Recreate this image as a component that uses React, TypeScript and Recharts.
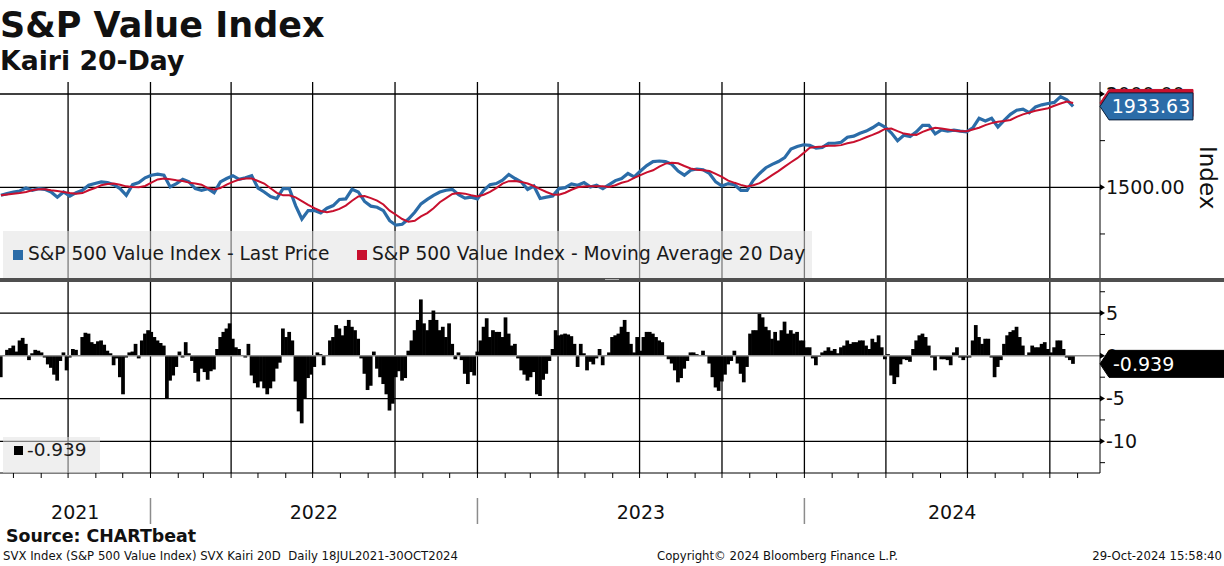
import React from 'react';
import { Bar, BarChart, Line, LineChart, ReferenceLine, XAxis, YAxis } from 'recharts';

// weekly samples from 18 Jul 2021
const lastPrice = [
  1457, 1466, 1475, 1480, 1496, 1484, 1493, 1489, 1475, 1447,
  1475, 1453, 1471, 1484, 1511, 1520, 1529, 1525, 1514, 1493,
  1457, 1514, 1525, 1551, 1565, 1571, 1565, 1502, 1520, 1543,
  1529, 1493, 1484, 1493, 1471, 1529, 1547, 1562, 1543, 1551,
  1562, 1496, 1475, 1450, 1440, 1493, 1493, 1402, 1330, 1375,
  1375, 1362, 1388, 1402, 1435, 1438, 1489, 1475, 1424, 1399,
  1393, 1375, 1321, 1297, 1302, 1330, 1366, 1411, 1435, 1457,
  1475, 1484, 1489, 1460, 1442, 1447, 1438, 1484, 1514, 1520,
  1538, 1569, 1547, 1529, 1489, 1507, 1440, 1447, 1453, 1493,
  1498, 1518, 1511, 1525, 1502, 1511, 1493, 1514, 1536, 1547,
  1574, 1556, 1587, 1616, 1638, 1641, 1638, 1623, 1587, 1565,
  1592, 1598, 1594, 1574, 1529, 1507, 1520, 1514, 1484, 1484,
  1538, 1574, 1605, 1623, 1638, 1659, 1705, 1719, 1728, 1725,
  1710, 1714, 1736, 1736, 1741, 1768, 1774, 1790, 1801, 1819,
  1841, 1823, 1792, 1750, 1779, 1772, 1797, 1832, 1832, 1786,
  1808, 1801, 1806, 1801, 1797, 1819, 1870, 1855, 1870, 1823,
  1859, 1891, 1913, 1919, 1900, 1931, 1942, 1949, 1955, 1986,
  1969, 1933.63,
];

const ma20 = [
  1457, 1462, 1466, 1469, 1475, 1484, 1489, 1489, 1484, 1480,
  1475, 1469, 1466, 1469, 1484, 1496, 1511, 1518, 1520, 1514,
  1505, 1502, 1500, 1507, 1525, 1542, 1547, 1543, 1538, 1534,
  1525, 1520, 1514, 1496, 1489, 1496, 1514, 1529, 1542, 1547,
  1547, 1534, 1520, 1495, 1470, 1457, 1457, 1446, 1426, 1406,
  1388, 1373, 1366, 1373, 1384, 1402, 1428, 1451, 1453, 1442,
  1429, 1408, 1375, 1353, 1330, 1315, 1321, 1344, 1362, 1388,
  1420, 1442, 1464, 1469, 1466, 1457, 1451, 1460, 1475, 1496,
  1520, 1533, 1534, 1529, 1520, 1507, 1490, 1475, 1462, 1460,
  1471, 1487, 1500, 1504, 1505, 1505, 1505, 1502, 1511, 1524,
  1533, 1551, 1565, 1580, 1591, 1611, 1627, 1632, 1629, 1614,
  1601, 1594, 1591, 1587, 1572, 1556, 1536, 1524, 1513, 1505,
  1511, 1522, 1543, 1565, 1587, 1611, 1634, 1656, 1683, 1712,
  1716, 1719, 1723, 1723, 1726, 1736, 1743, 1754, 1768, 1781,
  1795, 1813, 1815, 1801, 1788, 1783, 1781, 1797, 1810, 1819,
  1815, 1810, 1804, 1801, 1801, 1810, 1819, 1833, 1844, 1851,
  1855, 1861, 1877, 1891, 1900, 1910, 1917, 1924, 1937, 1949,
  1960, 1952,
];

// Kairi 20D, two samples a week
const kairi = [
  -2.5, 0.1, 0.7, 0.9, 1.2, 0.5, 1.8, 2.1, 1.4, -0.5,
  0.3, 0.7, 0.6, 0.4, -0.2, -1.0, -1.4, -2.2, -2.9, -0.6,
  0.4, -1.7, -0.2, 0.8, 0.7, 0.1, 2.2, 2.7, 2.6, 1.6,
  1.4, 1.7, 1.8, 1.3, 0.6, 0.3, -1.1, -0.3, -2.5, -4.5,
  -0.2, 0.4, 0.5, 1.4, -0.3, 1.8, 2.6, 3.0, 2.8, 2.2,
  1.8, 1.5, 1.2, -5.0, -2.9, -2.3, -1.3, 0.5, -0.2, 1.6,
  0.3, -0.6, -2.0, -3.0, -1.5, -1.9, -2.8, -1.8, -1.6, 0.8,
  2.2, 2.8, 3.2, 3.8, 2.0, 1.0, 0.8, 0.1, -0.2, 1.4,
  -2.3, -3.2, -3.7, -3.0, -3.8, -4.5, -3.8, -3.0, -1.5, -0.8,
  3.2, 2.2, 2.8, 1.8, -3.0, -6.5, -7.9, -5.0, -2.6, -2.2,
  -1.3, 0.4, 0.2, -1.1, 0.1, 1.8, 2.2, 3.6, 3.2, 2.4,
  3.5, 4.2, 3.4, 3.0, 2.0, -0.3, -2.1, -4.0, -3.5, 0.5,
  -1.5, -2.5, -3.3, -4.5, -6.4, -5.6, -2.5, -1.8, -2.9, -2.6,
  0.6, 1.8, 3.0, 4.2, 6.6, 3.8, 3.0, 4.2, 5.3, 4.2,
  3.0, 3.4, 2.2, 3.8, 1.4, -0.4, 0.4, -0.5, -2.1, -3.3,
  -1.9, -2.3, 0.5, 1.8, 3.4, 4.4, 2.2, 3.0, 2.8, 2.8,
  2.2, 4.5, 2.6, 1.2, 1.4, -0.3, -1.7, -2.2, -2.9, -2.5,
  -1.9, -4.5, -4.7, -2.8, -2.1, -0.6, 0.8, 3.0, 2.4, 2.5,
  2.6, 2.5, 2.3, 1.4, -1.3, 1.4, 0.3, -1.7, -0.7, -1.0,
  -0.3, 0.8, -1.1, 0.1, 0.4, 2.2, 2.4, 2.6, 3.4, 4.2,
  2.8, 1.4, 0.4, 2.2, 0.6, 2.2, 2.8, 2.8, 2.6, 2.2,
  1.8, 1.6, 0.0, -0.4, -0.9, -1.7, -3.1, -2.6, -1.5, -0.6,
  0.4, 0.4, 0.2, 0.0, 0.6, 0.1, -0.9, -2.5, -3.7, -4.1,
  -3.0, -2.2, -1.0, -0.6, 0.6, -0.9, -2.1, -3.1, -1.3, 2.6,
  3.0, 3.0, 4.9, 4.5, 3.4, 3.0, 2.0, 2.8, 1.8, 3.0,
  4.0, 2.6, 3.0, 2.6, 2.8, 1.8, 1.8, 1.0, 1.0, -0.3,
  -1.1, -0.1, 0.4, 0.6, 1.0, 0.6, 0.8, 0.3, 1.0, 1.2,
  1.8, 1.4, 1.6, 1.6, 1.8, 1.8, 1.2, 0.8, 2.0, 1.6,
  2.4, 1.0, -0.4, 0.2, -2.3, -3.3, -2.5, -1.0, -0.4, -0.5,
  -0.7, 0.8, 1.8, 2.4, 2.6, 2.2, 1.2, -0.2, -1.7, 0.0,
  -0.4, -0.4, -0.5, -1.1, 0.4, 1.0, -0.2, -0.5, -0.2, -0.2,
  1.8, 3.6, 2.2, 1.4, 2.0, 2.0, -0.2, -2.5, -1.3, -0.5,
  1.4, 2.4, 2.8, 3.0, 3.4, 2.2, 1.2, 0.0, 0.4, 1.2,
  1.0, 1.0, 1.4, 1.6, 0.8, 0.4, 1.0, 1.8, 1.8, 0.8,
  -0.2, -0.5, -0.939,
];

const priceTicks = [1250, 1500, 1750, 2000];
const priceMajor = [1500, 2000];
const kairiTicks = [-12.5, -10, -7.5, -5, -2.5, 0, 2.5, 5, 7.5];
const kairiMajor = [-10, -5, 0, 5];
const years = [2021, 2022, 2023, 2024];

const FONT = "'DejaVu Sans', Verdana, sans-serif";
const START = Date.UTC(2021, 6, 18);
const dayOf = (y: number, m: number) => (Date.UTC(y, m, 1) - START) / 86400000;
const X_DOMAIN: [number, number] = [-1, 1227];
const PLOT_W = 1100;

const priceRows = lastPrice.map((v, i) => ({ day: i * 7, price: v, ma: ma20[i] }));
const kairiRows = kairi.map((v, i) => ({ day: i * 3.5, k: v }));

const months: { day: number; m: number }[] = [];
years.forEach((y) => {
  for (let m = 0; m < 12; m++) {
    const d = dayOf(y, m);
    if (d > X_DOMAIN[0] && d < X_DOMAIN[1]) months.push({ day: d, m });
  }
});
const quarterDays = months.filter((t) => t.m % 3 === 0).map((t) => t.day);
const yearStarts = months.filter((t) => t.m === 0).map((t) => t.day);
const yearMids = years.map((y) => {
  const a = Math.max(dayOf(y, 0), X_DOMAIN[0]);
  const b = Math.min(dayOf(y + 1, 0), X_DOMAIN[1]);
  return { day: (a + b) / 2, label: String(y) };
});
const xTicks = [...months.map((t) => t.day), ...yearMids.map((t) => t.day)];

const last = <T,>(a: T[]) => a[a.length - 1];
const lastPx = last(lastPrice);
const lastMa = last(ma20);
const lastK = last(kairi);

// one sample step in pixels, so bars can butt up against each other
const barStep = (3.5 * PLOT_W) / (X_DOMAIN[1] - X_DOMAIN[0]);

// tag values go last so they paint over the axis labels
const priceAxisTicks = [...priceTicks, lastMa, lastPx];
const kairiAxisTicks = [...kairiTicks, lastK];

const tagPath = (x: number, cy: number, right: number) => {
  const h = 13.5;
  return `M${x},${cy}L${x + 9},${cy - h}L${right},${cy - h}L${right},${cy + h}L${x + 9},${cy + h}Z`;
};

const PriceTick = ({ x, y, payload }: any) => {
  const v = payload.value;
  if (v === lastMa) {
    return <path d={tagPath(x, y, 1193)} fill="#c8102e" stroke="#c8102e" />;
  }
  if (v === lastPx) {
    return (
      <g>
        <path d={tagPath(x, y, 1193)} fill="#2b6ca8" stroke="#0b1f3a" />
        <text x={1151} y={y} dy="0.36em" textAnchor="middle" fontSize={19} fontFamily={FONT} fill="#fff">
          {v.toFixed(2)}
        </text>
      </g>
    );
  }
  if (!priceMajor.includes(v)) return <line x1={x} x2={x + 5} y1={y} y2={y} stroke="#000" />;
  return (
    <g>
      <path d={`M${x},${y - 3}L${x + 5},${y}L${x},${y + 3}Z`} fill="#000" />
      <text x={x + 6} y={y} dy="0.36em" fontSize={19} fontFamily={FONT} fill="#111">
        {v.toFixed(2)}
      </text>
    </g>
  );
};

const KairiTick = ({ x, y, payload }: any) => {
  const v = payload.value;
  if (v === lastK) {
    return (
      <g>
        <path d={tagPath(x, y, 1230)} fill="#000" stroke="#000" />
        <text x={x + 13} y={y} dy="0.36em" fontSize={19} fontFamily={FONT} fill="#fff">
          {v.toFixed(3)}
        </text>
      </g>
    );
  }
  if (!kairiMajor.includes(v)) return <line x1={x} x2={x + 5} y1={y} y2={y} stroke="#000" />;
  return (
    <g>
      <path d={`M${x},${y - 3}L${x + 5},${y}L${x},${y + 3}Z`} fill="#000" />
      <text x={x + 6} y={y} dy="0.36em" fontSize={19} fontFamily={FONT} fill="#111">
        {String(v)}
      </text>
    </g>
  );
};

const DateTick = ({ x, y, payload }: any) => {
  const v = payload.value;
  const yr = yearMids.find((t) => t.day === v);
  if (yr) {
    return (
      <text x={x} y={y + 46} textAnchor="middle" fontSize={19} fontFamily={FONT} fill="#111">
        {yr.label}
      </text>
    );
  }
  return (
    <g>
      <line x1={x} x2={x} y1={y} y2={y + 5} stroke="#000" />
      {yearStarts.includes(v) && (
        <line x1={x} x2={x} y1={y + 25} y2={y + 51} stroke="#8c8c8c" strokeWidth={1.5} />
      )}
    </g>
  );
};

const footer = { position: 'absolute' as const, top: 551, fontSize: 11.7, lineHeight: 1, whiteSpace: 'pre' as const };

export default function App() {
  return (
    <div
      style={{
        position: 'absolute',
        left: 0,
        top: 0,
        width: 1224,
        height: 566,
        overflow: 'hidden',
        background: '#fff',
        fontFamily: FONT,
        color: '#111',
      }}
    >
      <div style={{ position: 'absolute', left: 0, top: 8, fontSize: 35, fontWeight: 'bold', lineHeight: 1 }}>
        S&amp;P Value Index
      </div>
      <div style={{ position: 'absolute', left: 0, top: 48, fontSize: 26.7, fontWeight: 'bold', lineHeight: 1 }}>
        Kairi 20-Day
      </div>

      <div style={{ position: 'absolute', left: 0, top: 82 }}>
        <LineChart width={1224} height={197} data={priceRows} margin={{ top: 0, right: 0, bottom: 0, left: 0 }}>
          <XAxis dataKey="day" type="number" domain={X_DOMAIN} hide allowDataOverflow />
          <YAxis
            orientation="right"
            width={124}
            domain={[1008.6, 2064.3]}
            ticks={priceAxisTicks}
            interval={0}
            tickSize={0}
            tickMargin={0}
            tickLine={false}
            axisLine={{ stroke: '#000' }}
            allowDataOverflow
            tick={<PriceTick />}
          />
          {quarterDays.map((d) => (
            <ReferenceLine key={d} x={d} stroke="#000" strokeWidth={1.3} />
          ))}
          {priceMajor.map((v) => (
            <ReferenceLine key={v} y={v} stroke="#000" strokeWidth={1.3} />
          ))}
          <Line dataKey="price" stroke="#2b6ca8" strokeWidth={3.2} dot={false} isAnimationActive={false} />
          <Line dataKey="ma" stroke="#c8102e" strokeWidth={2} dot={false} isAnimationActive={false} />
        </LineChart>
      </div>

      <div
        style={{
          position: 'absolute',
          left: 1196,
          top: 146,
          writingMode: 'vertical-rl',
          fontSize: 23,
          lineHeight: 1,
        }}
      >
        Index
      </div>

      <div
        style={{
          position: 'absolute',
          left: 3,
          top: 231,
          width: 809,
          height: 47,
          background: 'rgba(225,225,225,0.55)',
          fontSize: 18.6,
          color: '#1a1a1a',
        }}
      >
        <div style={{ position: 'absolute', left: 10, top: 19, width: 10, height: 10, background: '#2b6ca8' }} />
        <div style={{ position: 'absolute', left: 25, top: 12, whiteSpace: 'pre', lineHeight: 1.2 }}>
          S&amp;P 500 Value Index - Last Price
        </div>
        <div style={{ position: 'absolute', left: 354, top: 19, width: 10, height: 10, background: '#c8102e' }} />
        <div style={{ position: 'absolute', left: 369, top: 12, whiteSpace: 'pre', lineHeight: 1.2 }}>
          S&amp;P 500 Value Index - Moving Average 20 Day
        </div>
      </div>

      <div style={{ position: 'absolute', left: 0, top: 282 }}>
        <BarChart
          width={1224}
          height={249}
          data={kairiRows}
          margin={{ top: 0, right: 0, bottom: 0, left: 0 }}
          barCategoryGap={0}
          barGap={0}
        >
          <XAxis
            dataKey="day"
            type="number"
            domain={X_DOMAIN}
            ticks={xTicks}
            interval={0}
            tickSize={0}
            tickMargin={0}
            tickLine={false}
            height={58}
            axisLine={{ stroke: '#000' }}
            allowDataOverflow
            tick={<DateTick />}
          />
          <YAxis
            orientation="right"
            width={124}
            domain={[-13.71, 8.64]}
            ticks={kairiAxisTicks}
            interval={0}
            tickSize={0}
            tickMargin={0}
            tickLine={false}
            axisLine={{ stroke: '#000' }}
            allowDataOverflow
            tick={<KairiTick />}
          />
          {quarterDays.map((d) => (
            <ReferenceLine key={d} x={d} stroke="#000" strokeWidth={1.3} />
          ))}
          {[5, -5, -10].map((v) => (
            <ReferenceLine key={v} y={v} stroke="#000" strokeWidth={1.3} />
          ))}
          <Bar
            dataKey="k"
            fill="#000"
            barSize={barStep}
            isAnimationActive={false}
            shape={(p: any) => {
              const h = Math.abs(p.height);
              const top = p.height < 0 ? p.y + p.height : p.y;
              const cx = p.x + p.width / 2;
              return <rect x={cx - barStep / 2 - 0.3} y={top} width={barStep + 0.6} height={h} fill="#000" />;
            }}
          />
          <ReferenceLine y={0} stroke="#8c8c8c" strokeWidth={1.5} />
        </BarChart>
      </div>

      <div style={{ position: 'absolute', left: 0, top: 278, width: 1224, height: 4, background: '#4f4f4f' }} />
      <div style={{ position: 'absolute', left: 605, top: 279, width: 14, height: 1, background: '#b0b0b0' }} />

      <div
        style={{
          position: 'absolute',
          left: 3,
          top: 437,
          width: 97,
          height: 36,
          background: 'rgba(225,225,225,0.55)',
          fontSize: 18.5,
          color: '#1a1a1a',
        }}
      >
        <div style={{ position: 'absolute', left: 11, top: 9, width: 9, height: 9, background: '#000' }} />
        <div style={{ position: 'absolute', left: 24, top: 2, lineHeight: 1.2 }}>{lastK.toFixed(3)}</div>
      </div>

      <div style={{ position: 'absolute', left: 6, top: 528, fontSize: 17.4, fontWeight: 'bold', lineHeight: 1 }}>
        Source: CHARTbeat
      </div>
      <div style={{ ...footer, left: 3 }}>
        SVX Index (S&amp;P 500 Value Index) SVX Kairi 20D  Daily 18JUL2021-30OCT2024
      </div>
      <div style={{ ...footer, left: 657 }}>Copyright© 2024 Bloomberg Finance L.P.</div>
      <div style={{ ...footer, right: 2 }}>29-Oct-2024 15:58:40</div>
    </div>
  );
}
